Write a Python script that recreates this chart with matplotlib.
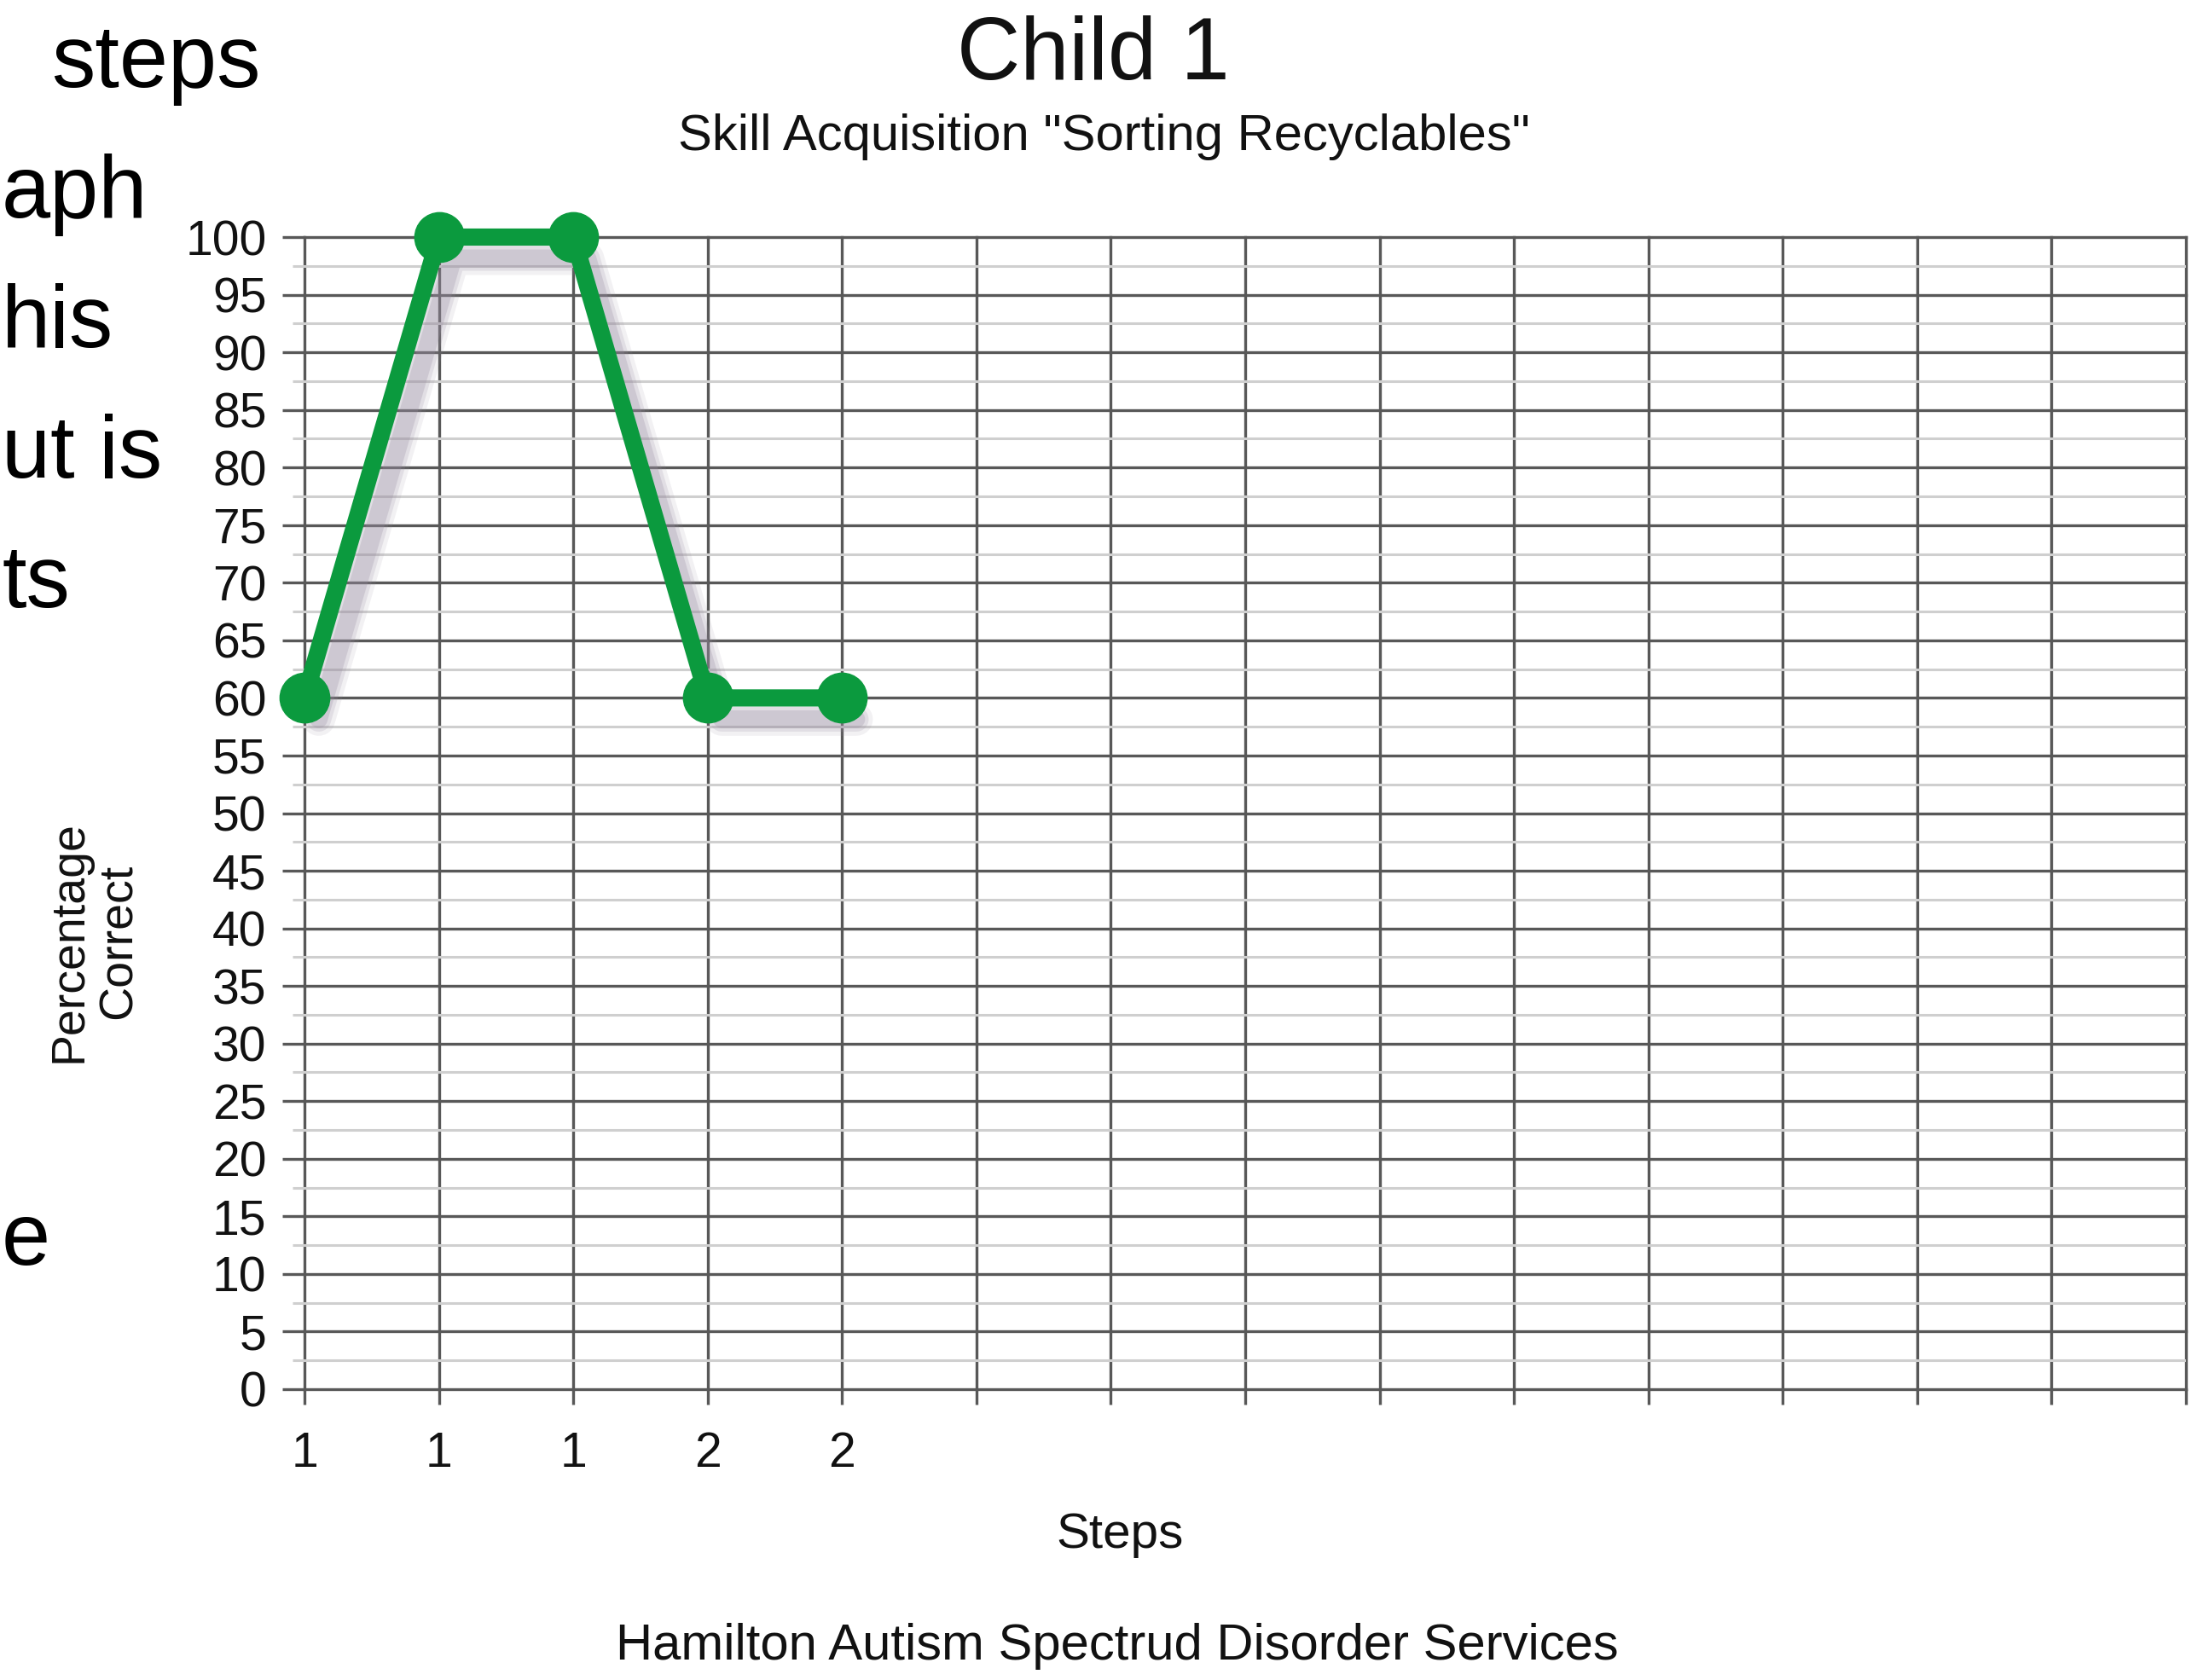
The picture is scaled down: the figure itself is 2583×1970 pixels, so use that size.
import matplotlib
matplotlib.use("Agg")
import matplotlib.pyplot as plt
import matplotlib.transforms as mtransforms
from matplotlib.ticker import FixedLocator

# ---- data ----
step_labels = ['1', '1', '1', '2', '2']
pct_correct = [60, 100, 100, 60, 60]
n_columns = 15
y_ticks = list(range(0, 101, 5))
title = "Child 1"
subtitle = 'Skill Acquisition "Sorting Recyclables"'
xlabel = "Steps"
ylabel = "Percentage\nCorrect"
footer = "Hamilton Autism Spectrud Disorder Services"
slide_lines = ["steps", "aph", "his", "ut is", "ts", "e"]

plt.rcParams['font.family'] = ['Liberation Sans', 'DejaVu Sans']

W, H = 2583, 1970
fig = plt.figure(figsize=(W / 100, H / 100), dpi=100)
fig.patch.set_facecolor('white')

def fx(px):
    return px / W

def fy(py):
    return 1 - py / H

left_px, right_px, top_px, bot_px = 357, 2563, 278, 1629
ax = fig.add_axes([fx(left_px), fy(bot_px), (right_px - left_px) / W, (bot_px - top_px) / H])

major_c = '#585858'
minor_c = '#cfcfcf'
green = '#0b9a3e'

xs = list(range(1, len(pct_correct) + 1))
ax.set_xlim(1, n_columns)
ax.set_ylim(0, 100)

ax.set_yticks(y_ticks)
ax.set_yticklabels([str(v) for v in y_ticks])
ax.yaxis.set_minor_locator(FixedLocator([v + 2.5 for v in y_ticks[:-1]]))
ax.set_xticks(list(range(1, n_columns + 1)))
ax.set_xticklabels(step_labels + [''] * (n_columns - len(step_labels)))

ax.tick_params(axis='y', which='major', length=19, width=2.4, color=major_c,
               labelsize=41, pad=13, labelcolor='#111111')
ax.tick_params(axis='y', which='minor', length=10, width=2.2, color=minor_c)
ax.tick_params(axis='x', which='major', length=13, width=2.4, color=major_c,
               labelsize=41, pad=22, labelcolor='#111111')

ax.grid(True, axis='y', which='major', color=major_c, linewidth=2.4)
ax.grid(True, axis='y', which='minor', color=minor_c, linewidth=2.2)
ax.grid(True, axis='x', which='major', color=major_c, linewidth=2.4)
ax.set_axisbelow(True)
for s in ax.spines.values():
    s.set_visible(False)
for gl in ax.get_xgridlines() + ax.get_ygridlines():
    gl.set_clip_on(False)

# soft drop shadow (several translucent layers, offset right/down)
for lw, a in [(28, 0.12), (21, 0.18), (15, 0.26)]:
    shadow_tr = mtransforms.offset_copy(ax.transData, fig=fig, x=12, y=-18, units='points')
    ax.plot(xs, pct_correct, color='#978ca0', linewidth=lw, alpha=a,
            transform=shadow_tr, clip_on=False, zorder=4,
            solid_capstyle='round', solid_joinstyle='round')

ax.plot(xs, pct_correct, color=green, linewidth=14.5, marker='o',
        markersize=42, markerfacecolor=green, markeredgecolor=green,
        clip_on=False, zorder=5, solid_capstyle='round',
        solid_joinstyle='round')

# titles and labels
fig.text(fx(1282), fy(66), title, fontsize=74, ha='center', va='center', color='#111111')
fig.text(fx(1294), fy(160), subtitle, fontsize=43, ha='center', va='center', color='#111111')
fig.text(fx(1313), fy(1800), xlabel, fontsize=42, ha='center', va='center', color='#111111')
fig.text(fx(111), fy(1104), ylabel, fontsize=40, rotation=90, ha='center', va='center',
         multialignment='center', linespacing=1.15, color='#111111')
fig.text(fx(1310), fy(1931), footer, fontsize=43, ha='center', va='center', color='#111111')

# slide text fragments at the left edge (kept fully inside the figure)
lefts = [60, 2, 2, 2, 2, 2]
baselines = [102, 255, 407, 560, 712, 1483]
for t, l, b in zip(slide_lines, lefts, baselines):
    fig.text(fx(l), fy(b), t, fontsize=74, ha='left', va='baseline', color='black')

fig.savefig('out.png', dpi=100, facecolor='white')
